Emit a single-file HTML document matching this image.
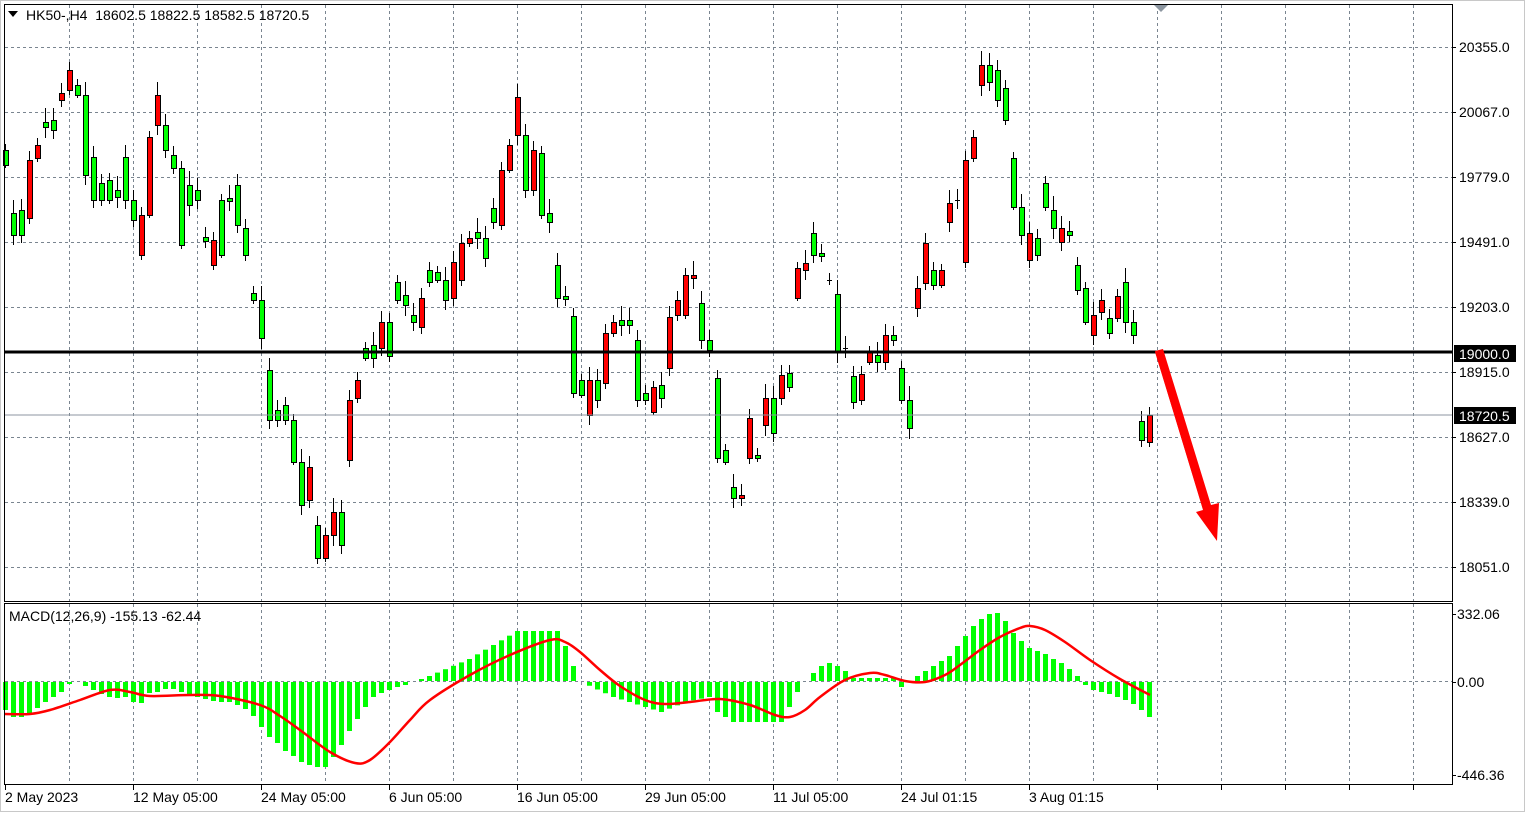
<!DOCTYPE html>
<html><head><meta charset="utf-8"><style>
html,body{margin:0;padding:0;background:#fff;}
svg{display:block;font-family:"Liberation Sans",sans-serif;}
</style></head><body>
<svg id="s" width="1526" height="813" xmlns="http://www.w3.org/2000/svg">
<rect x="0" y="0" width="1526" height="813" fill="#fff"/>
<rect x="0.5" y="0.5" width="1524" height="811" fill="none" stroke="#c8c8c8"/>
<g id="grid"></g>
<g id="macd"></g>
<g id="cand"></g>
<line x1="5" y1="352" x2="1452" y2="352" stroke="#000" stroke-width="3"/>
<line x1="5" y1="415" x2="1452" y2="415" stroke="#8c96a0" stroke-width="1"/>
<polygon points="1155,351 1163,349 1211,505 1219,503 1217,541 1196,512 1203,510" fill="#ff0000"/>
<polygon points="1155,352 1162,350 1210,507 1203,509" fill="#ff0000"/>
<rect x="4.5" y="4.5" width="1448" height="597" fill="none" stroke="#000"/>
<rect x="4.5" y="603.5" width="1448" height="181" fill="none" stroke="#000"/>
<polygon points="8,11 18,11 13,17" fill="#000"/>
<text x="26" y="20" font-size="14" xml:space="preserve">HK50-,H4  18602.5 18822.5 18582.5 18720.5</text>
<polygon points="1154,5 1168,5 1161,12" fill="#8c96a0"/>
<text x="9" y="621" font-size="14">MACD(12,26,9) -155.13 -62.44</text>
<g id="axis" font-size="14"></g>
</svg>
<script>
const NS="http://www.w3.org/2000/svg";
function el(p,t,a,txt){const e=document.createElementNS(NS,t);for(const k in a)e.setAttribute(k,a[k]);if(txt!==undefined)e.textContent=txt;p.appendChild(e);return e;}
const grid=document.getElementById('grid'),ax=document.getElementById('axis');
const gc="#7a8590";
const prices=["20355.0","20067.0","19779.0","19491.0","19203.0","18915.0","18627.0","18339.0","18051.0"];
for(let k=0;k<9;k++){const y=47+65*k;el(grid,'line',{x1:5,y1:y+.5,x2:1452,y2:y+.5,stroke:gc,'stroke-dasharray':'3,3'});
 el(ax,'line',{x1:1452,y1:y+.5,x2:1456,y2:y+.5,stroke:'#000'});
 el(ax,'text',{x:1459,y:y+5},prices[k]);}
for(let x=69;x<1452;x+=64){el(grid,'line',{x1:x+.5,y1:5,x2:x+.5,y2:601,stroke:gc,'stroke-dasharray':'3,3'});
 el(grid,'line',{x1:x+.5,y1:604,x2:x+.5,y2:784,stroke:gc,'stroke-dasharray':'3,3'});}
el(grid,'line',{x1:5,y1:681.5,x2:1452,y2:681.5,stroke:gc,'stroke-dasharray':'3,3'});
el(ax,'rect',{x:1454,y:345,width:62,height:17,fill:'#000'});
el(ax,'text',{x:1459,y:359,fill:'#fff'},"19000.0");
el(ax,'rect',{x:1454,y:407,width:62,height:17,fill:'#000'});
el(ax,'text',{x:1459,y:421,fill:'#fff'},"18720.5");
[[614,"332.06"],[682,"0.00"],[775,"-446.36"]].forEach(([y,t])=>{el(ax,'text',{x:1457,y:y+5},t);el(ax,'line',{x1:1452,y1:y+.5,x2:1456,y2:y+.5,stroke:'#000'});});
const dates=[[5,"2 May 2023"],[133,"12 May 05:00"],[261,"24 May 05:00"],[389,"6 Jun 05:00"],[517,"16 Jun 05:00"],[645,"29 Jun 05:00"],[773,"11 Jul 05:00"],[901,"24 Jul 01:15"],[1029,"3 Aug 01:15"]];
dates.forEach(([x,t])=>{el(ax,'line',{x1:x+.5,y1:785,x2:x+.5,y2:790,stroke:'#000'});el(ax,'text',{x:x,y:802},t);});
for(let x=1157;x<1452;x+=64)el(ax,'line',{x1:x+.5,y1:785,x2:x+.5,y2:790,stroke:'#000'});
const C=[[150,165,'g'],[213,235,'g'],[210,235,'g'],[160,218,'r'],[145,158,'r'],[122,127,'g'],[120,130,'g'],[93,100,'r'],[70,90,'r'],[85,95,'g'],[95,175,'g'],[157,200,'g'],[183,200,'g'],[180,200,'g'],[190,197,'g'],[157,200,'g'],[200,220,'g'],[215,255,'r'],[137,215,'r'],[95,125,'r'],[125,150,'g'],[155,168,'g'],[168,245,'g'],[185,205,'g'],[190,200,'g'],[237,241,'g'],[240,265,'r'],[200,255,'g'],[198,201,'g'],[185,225,'g'],[228,255,'g'],[293,300,'g'],[300,338,'g'],[370,420,'g'],[410,420,'g'],[405,420,'g'],[420,462,'g'],[462,505,'g'],[467,500,'r'],[525,558,'g'],[535,558,'r'],[512,535,'r'],[512,545,'g'],[400,460,'r'],[380,398,'r'],[348,358,'g'],[345,358,'g'],[322,348,'r'],[322,356,'g'],[282,300,'g'],[295,305,'g'],[315,322,'g'],[298,327,'r'],[270,282,'g'],[272,280,'g'],[280,300,'g'],[262,298,'r'],[243,280,'r'],[238,243,'r'],[232,238,'g'],[238,258,'g'],[208,222,'g'],[170,225,'r'],[145,170,'r'],[97,135,'r'],[135,190,'g'],[150,190,'r'],[153,215,'g'],[213,222,'g'],[265,298,'g'],[296,299,'g'],[316,393,'g'],[380,395,'g'],[380,415,'r'],[380,400,'g'],[333,383,'r'],[322,333,'r'],[320,325,'g'],[320,325,'g'],[340,400,'g'],[393,400,'g'],[387,412,'r'],[385,398,'g'],[317,368,'r'],[300,315,'r'],[275,315,'r'],[275,278,'r'],[303,340,'g'],[340,350,'g'],[378,458,'g'],[450,462,'g'],[487,498,'g'],[495,498,'r'],[418,458,'r'],[455,458,'g'],[398,425,'r'],[398,433,'g'],[375,398,'r'],[373,387,'g'],
[268,298,'r'],[263,270,'r'],[233,255,'g'],[253,256,'g'],[280,281,'d'],[294,352,'g'],[348,349,'d'],[376,402,'g'],[374,400,'r'],[352,362,'r'],[355,362,'g'],[335,362,'r'],[335,340,'g'],[368,400,'g'],[400,428,'g'],[288,308,'r'],[243,283,'r'],[270,285,'g'],[270,285,'r'],[203,222,'r'],[200,201,'d'],[160,262,'r'],[137,158,'r'],[65,85,'r'],[65,82,'g'],[70,100,'g'],[88,120,'g'],[158,207,'g'],[207,235,'g'],[233,260,'r'],[238,255,'g'],[183,207,'g'],[210,228,'g'],[228,242,'r'],[231,235,'g'],[265,290,'g'],[288,322,'g'],[315,335,'r'],[300,312,'r'],[318,333,'g'],[296,318,'r'],[282,322,'g'],[322,335,'g'],[421,440,'g'],[415,442,'r']];
const cg=document.getElementById('cand');
C.forEach((c,i)=>{const x=5+8*i;const[t,b,col]=c;const w=6+((i*7)%9);
 el(cg,'line',{x1:x+.5,y1:t-w,x2:x+.5,y2:b+w-3,stroke:'#000'});
 if(col==='d'){el(cg,'line',{x1:x-2,y1:t+.5,x2:x+3,y2:t+.5,stroke:'#000'});}
 else el(cg,'rect',{x:x-2+.5,y:t+.5,width:5,height:Math.max(1,b-t),fill:col==='g'?'#00ff00':'#ff0000',stroke:'#000'});});
const H={0:-28,1:-35,2:-35,3:-31,4:-26,5:-20,6:-15,7:-10,8:-2,9:0,10:-4,11:-8,12:-12,13:-15,14:-16,15:-15,16:-20,17:-21,18:-11,19:-10,20:-7,21:-7,22:-10,23:-14,24:-15,25:-17,26:-19,27:-20,28:-20,29:-23,30:-27,31:-34,32:-45,33:-55,34:-61,35:-69,36:-74,37:-80,38:-83,39:-85,40:-85,41:-75,42:-63,43:-49,44:-37,45:-25,46:-15,47:-11,48:-8,49:-5,50:-3,51:0,52:2,53:5,58:22,64:50,69:50,70:35,71:15,72:0,76:-15,82:-30,85:-20,88:-15,89:-30,91:-40,97:-40,98:-25,99:-10,100:0,101:8,102:15,103:18,104:15,105:10,106:3,111:3,112:-5,113:0,114:5,115:10,116:15,117:20,118:25,119:35,120:45,121:55,122:62,123:67,124:68,125:60,126:48,127:40,128:33,129:30,130:27,131:22,132:18,133:12,134:5,135:-3,136:-8,137:-10,138:-12,139:-15,140:-18,141:-22,142:-28,143:-35};
const keys=Object.keys(H).map(Number).sort((a,b)=>a-b);
const mg=document.getElementById('macd');
for(let i=0;i<=143;i++){let v;if(H[i]!==undefined)v=H[i];else{let a=keys.filter(k=>k<i).pop(),b=keys.find(k=>k>i);v=H[a]+(H[b]-H[a])*(i-a)/(b-a);}
 const x=5+8*i-2;if(Math.abs(v)<1)continue;
 el(mg,'rect',{x:x,y:v>0?681-v:682,width:5,height:Math.abs(v),fill:'#00ff00'});}
const S=[[5,714],[30,714],[50,710],[80,700],[110,690],[130,692],[150,696],[190,695],[220,696],[260,705],[280,716],[300,730],[330,752],[355,763],[370,760],[390,742],[410,720],[430,700],[470,675],[510,655],[550,640],[565,642],[580,652],[600,670],[620,686],[645,700],[665,704],[690,702],[720,699],[750,705],[775,715],[790,717],[805,710],[820,697],[845,680],[870,673],[885,675],[905,681],[925,682],[945,675],[960,665],[980,650],[1000,637],[1020,628],[1030,626],[1045,630],[1065,642],[1090,660],[1120,679],[1150,695]];
let d="M"+S[0][0]+","+S[0][1];
for(let i=0;i<S.length-1;i++){const p0=S[Math.max(0,i-1)],p1=S[i],p2=S[i+1],p3=S[Math.min(S.length-1,i+2)];
 d+=` C${p1[0]+(p2[0]-p0[0])/6},${p1[1]+(p2[1]-p0[1])/6} ${p2[0]-(p3[0]-p1[0])/6},${p2[1]-(p3[1]-p1[1])/6} ${p2[0]},${p2[1]}`;}
el(mg,'path',{d:d,fill:'none',stroke:'#ff0000','stroke-width':2.5});
</script>
</body></html>
